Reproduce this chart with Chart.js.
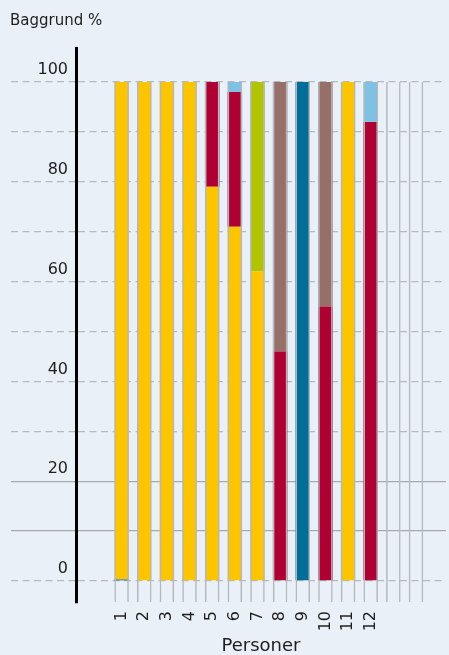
<!DOCTYPE html>
<html><head><meta charset="utf-8">
<script src="https://cdn.jsdelivr.net/npm/chart.js@4"></script>
<style>html,body{margin:0;padding:0;background:#EAF0F8;} canvas{display:block}</style>
</head><body>
<canvas id="c" width="449" height="655"></canvas>
<script>
// Categories (persons); slots 13 and 14 are empty frames
const categories = ['1','2','3','4','5','6','7','8','9','10','11','12','',''];
// Series values (%), stacked bottom to top
const tealValues      = [0.3,0,0,0,0,0,0,0,100,0,0,0];
const yellowValues    = [99.7,100,100,100,79,71,62,0,0,0,100,0];
const redValues       = [0,0,0,0,21,27,0,46,0,55,0,92];
const greenValues     = [0,0,0,0,0,0,38,0,0,0,0,0];
const brownValues     = [0,0,0,0,0,0,0,54,0,45,0,0];
const lightBlueValues = [0,0,0,0,0,2,0,0,0,0,0,8];
// Y tick labels
const yTickLabels = [0,20,40,60,80,100];
const frameTop = 100;
const frameBottom = -4.2;

const toPoints = vals => vals.map((v, i) => ({x: i + 1, y: v}));
const solidGrid = [10, 20];
const gridColor = '#B6BABE';
const isSolid = ctx => ctx.tick && solidGrid.includes(ctx.tick.value);
const dashFor = ctx => !ctx.tick ? [] : (isSolid(ctx) ? [] : [7, 4.5]);
const colorFor = ctx => isSolid(ctx) ? '#A6AAAD' : gridColor;

const mk = (label, vals, color) => ({
  label, data: toPoints(vals), backgroundColor: color, borderWidth: 0,
  stack: 'main', order: 1, categoryPercentage: 0.8, barPercentage: 0.8
});

new Chart(document.getElementById('c'), {
  type: 'bar',
  data: {
    datasets: [
      mk('Serie 1', tealValues, '#006E99'),
      mk('Serie 2', yellowValues, '#FDC400'),
      mk('Serie 3', redValues, '#AE0032'),
      mk('Serie 4', greenValues, '#B2C400'),
      mk('Serie 5', brownValues, '#966F68'),
      mk('Serie 6', lightBlueValues, '#7FC1E3'),
      {
        label: 'ramme',
        data: categories.map((c, i) => ({x: i + 1, y: [frameBottom, frameTop]})),
        backgroundColor: 'rgba(0,0,0,0)',
        borderColor: '#B4B8BC',
        borderWidth: {left: 1.5, right: 1.5, top: 0, bottom: 0},
        borderSkipped: false,
        grouped: false, stack: 'frame', order: 0,
        categoryPercentage: 0.8, barPercentage: 0.8
      }
    ]
  },
  options: {
    responsive: false,
    animation: false,
    layout: {padding: {left: 10, right: 3, top: 0, bottom: 0}},
    plugins: {
      legend: {display: false},
      tooltip: {enabled: false},
      title: {
        display: true, text: 'Baggrund %', align: 'start', color: '#1E1E1E',
        padding: {top: 12, bottom: 18},
        font: {size: 15, weight: 'normal', family: 'DejaVu Sans', lineHeight: 1.2}
      }
    },
    scales: {
      x: {
        type: 'linear', min: -1.014, max: 15.325, offset: false,
        afterFit: s => { s.height = 52; s.paddingLeft = 0; s.paddingRight = 0; },
        grid: {display: false, drawTicks: false},
        border: {display: false},
        ticks: {
          stepSize: 1, autoSkip: false, includeBounds: false,
          minRotation: 90, maxRotation: 90, padding: 8, color: '#1E1E1E',
          font: {size: 16, family: 'DejaVu Sans'},
          callback: v => (Number.isInteger(v) && v >= 1 && v <= categories.length) ? categories[v - 1] : ''
        },
        title: {
          display: true, text: 'Personer', color: '#1E1E1E',
          padding: {top: 0, bottom: 0},
          font: {size: 18, family: 'DejaVu Sans', lineHeight: 1}
        }
      },
      y: {
        stacked: true, min: -4.41, max: 106.81,
        afterFit: s => { s.width = 66; s.paddingTop = 0; s.paddingBottom = 0; },
        border: {display: true, color: '#000000', width: 3, dash: dashFor},
        grid: {
          color: colorFor, lineWidth: 1.3, drawTicks: true, tickLength: 65,
          tickBorderDash: dashFor, tickColor: colorFor, tickWidth: 1.3
        },
        ticks: {
          stepSize: 10, includeBounds: false, autoSkip: false,
          padding: -57, labelOffset: -12, color: '#1E1E1E',
          font: {size: 16, family: 'DejaVu Sans'},
          callback: v => yTickLabels.includes(v) ? String(v) : ''
        }
      }
    }
  }
});
</script>
</body></html>
